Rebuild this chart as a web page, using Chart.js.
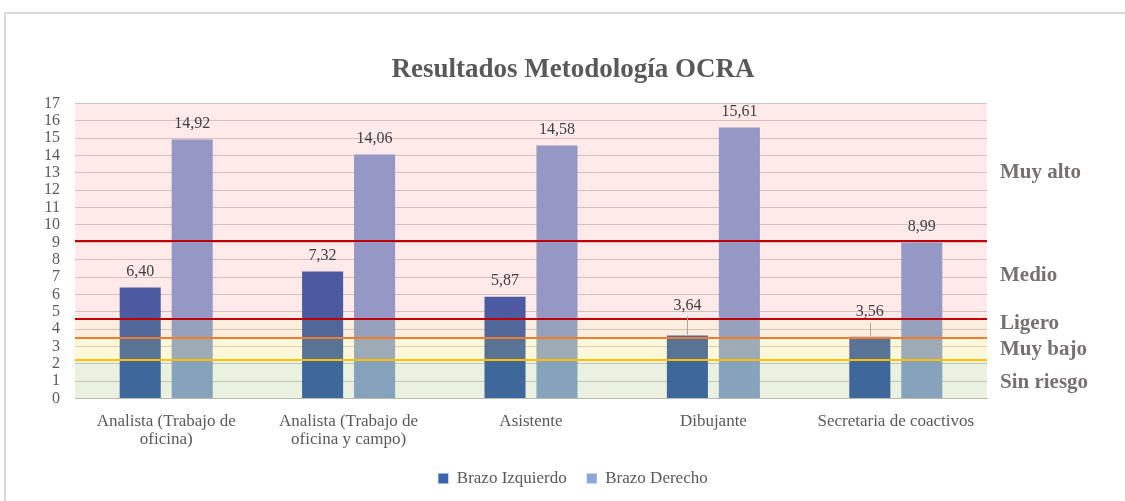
<!DOCTYPE html>
<html>
<head>
<meta charset="utf-8">
<script src="https://cdn.jsdelivr.net/npm/chart.js@4/dist/chart.umd.min.js"></script>
<style>
  html, body { margin: 0; padding: 0; background: #ffffff; overflow: hidden; width: 1125px; height: 501px; }
  #box { position: absolute; left: 4px; top: 12px; width: 1140px; height: 489px; border-left: 2px solid #D9D9D9; border-top: 2px solid #D9D9D9; }
  #wrap { position: absolute; left: 0; top: 0; width: 1140px; height: 487px; }
</style>
</head>
<body>
<div id="box"><div id="wrap"><canvas id="c"></canvas></div></div>
<script>
// ---- data ----
const categories = [
  ['Analista (Trabajo de', 'oficina)'],
  ['Analista (Trabajo de', 'oficina y campo)'],
  'Asistente',
  'Dibujante',
  'Secretaria de coactivos'
];
const brazoIzquierdo = [6.40, 7.32, 5.87, 3.64, 3.56];
const brazoDerecho = [14.92, 14.06, 14.58, 15.61, 8.99];
const yTicks = [0, 1, 2, 3, 4, 5, 6, 7, 8, 9, 10, 11, 12, 13, 14, 15, 16, 17];
const zoneBounds = [0, 2.2, 3.5, 4.6, 17];
const zoneLines = [9.1, 4.6, 3.5, 2.2];
const zoneNames = ['Muy alto', 'Medio', 'Ligero', 'Muy bajo', 'Sin riesgo'];
const zoneNameAt = [13.0, 7.1, 4.3, 2.8, 0.95];

// ---- styles ----
const SERIF = "'Liberation Serif', 'Times New Roman', serif";
const zoneFills = ['rgba(88,138,0,0.12)', 'rgba(255,200,0,0.15)', 'rgba(230,120,0,0.13)', 'rgba(255,0,0,0.085)'];
const zoneLineColors = ['#C00000', '#C00000', '#ED7D31', '#FFC000'];
const labelLift = { 0: [0, 0, 0, 14, 9], 1: [0, 0, 0, 0, 0] };

const zonesPlugin = {
  id: 'zones',
  afterDatasetsDraw(chart) {
    const { ctx, chartArea: a, scales: { y } } = chart;
    ctx.save();
    for (let i = 0; i < zoneBounds.length - 1; i++) {
      const y0 = y.getPixelForValue(zoneBounds[i]);
      const y1 = y.getPixelForValue(zoneBounds[i + 1]);
      ctx.fillStyle = zoneFills[i];
      ctx.fillRect(a.left, y1, a.right - a.left, y0 - y1);
    }
    zoneLines.forEach((v, i) => {
      const py = Math.round(y.getPixelForValue(v));
      ctx.strokeStyle = zoneLineColors[i];
      ctx.lineWidth = 2;
      ctx.beginPath();
      ctx.moveTo(a.left, py);
      ctx.lineTo(a.right, py);
      ctx.stroke();
    });
    ctx.font = '16px ' + SERIF;
    ctx.fillStyle = '#404040';
    ctx.textAlign = 'center';
    ctx.textBaseline = 'middle';
    chart.data.datasets.forEach((ds, di) => {
      const meta = chart.getDatasetMeta(di);
      meta.data.forEach((bar, i) => {
        const lift = labelLift[di][i];
        const ly = bar.y - 16 - lift;
        if (lift > 0) {
          ctx.strokeStyle = '#A6A6A6';
          ctx.lineWidth = 1;
          ctx.beginPath();
          ctx.moveTo(Math.round(bar.x) + 0.5, ly + 11);
          ctx.lineTo(Math.round(bar.x) + 0.5, bar.y - 1);
          ctx.stroke();
        }
        ctx.fillText(ds.data[i].toFixed(2).replace('.', ','), bar.x, ly);
      });
    });
    ctx.font = 'bold 21px ' + SERIF;
    ctx.fillStyle = '#767171';
    ctx.textAlign = 'left';
    zoneNames.forEach((t, i) => {
      ctx.fillText(t, a.right + 13, y.getPixelForValue(zoneNameAt[i]));
    });
    ctx.restore();
  }
};

new Chart(document.getElementById('c'), {
  type: 'bar',
  data: {
    labels: categories,
    datasets: [
      { label: 'Brazo Izquierdo', data: brazoIzquierdo, backgroundColor: '#3C64B0', borderWidth: 0,
        categoryPercentage: 0.57, barPercentage: 0.79 },
      { label: 'Brazo Derecho', data: brazoDerecho, backgroundColor: '#8CA6D8', borderWidth: 0,
        categoryPercentage: 0.57, barPercentage: 0.79 }
    ]
  },
  options: {
    responsive: true,
    maintainAspectRatio: false,
    animation: false,
    layout: { padding: { left: 23, right: 29, top: 0, bottom: 4 } },
    plugins: {
      title: {
        display: true,
        text: 'Resultados Metodología OCRA',
        color: '#595959',
        font: { family: SERIF, size: 27, weight: 'bold' },
        padding: { top: 40, bottom: 17 }
      },
      legend: {
        position: 'bottom',
        labels: {
          color: '#595959',
          font: { family: SERIF, size: 17 },
          boxWidth: 10, boxHeight: 10, padding: 20
        }
      },
      tooltip: { enabled: false }
    },
    scales: {
      x: {
        grid: { display: false, drawTicks: false },
        border: { display: true, color: '#BFBFBF', width: 1 },
        ticks: { color: '#595959', font: { family: SERIF, size: 17, lineHeight: 1.07 }, padding: 14, maxRotation: 0 },
        afterFit(s) { s.height = s.height - 13; }
      },
      y: {
        min: 0, max: 17,
        afterBuildTicks(scale) { scale.ticks = yTicks.map(v => ({ value: v })); },
        grid: { color: '#D0D0D0', lineWidth: 1, drawTicks: false },
        border: { display: false },
        ticks: { color: '#595959', font: { family: SERIF, size: 16 }, padding: 15, autoSkip: false },
        afterFit(s) { s.width = 46; }
      },
      yRight: {
        type: 'linear',
        position: 'right',
        display: true,
        grid: { display: false, drawTicks: false },
        border: { display: false },
        ticks: { display: false },
        afterFit(s) { s.width = 130; }
      }
    }
  },
  plugins: [zonesPlugin]
});
</script>
</body>
</html>
